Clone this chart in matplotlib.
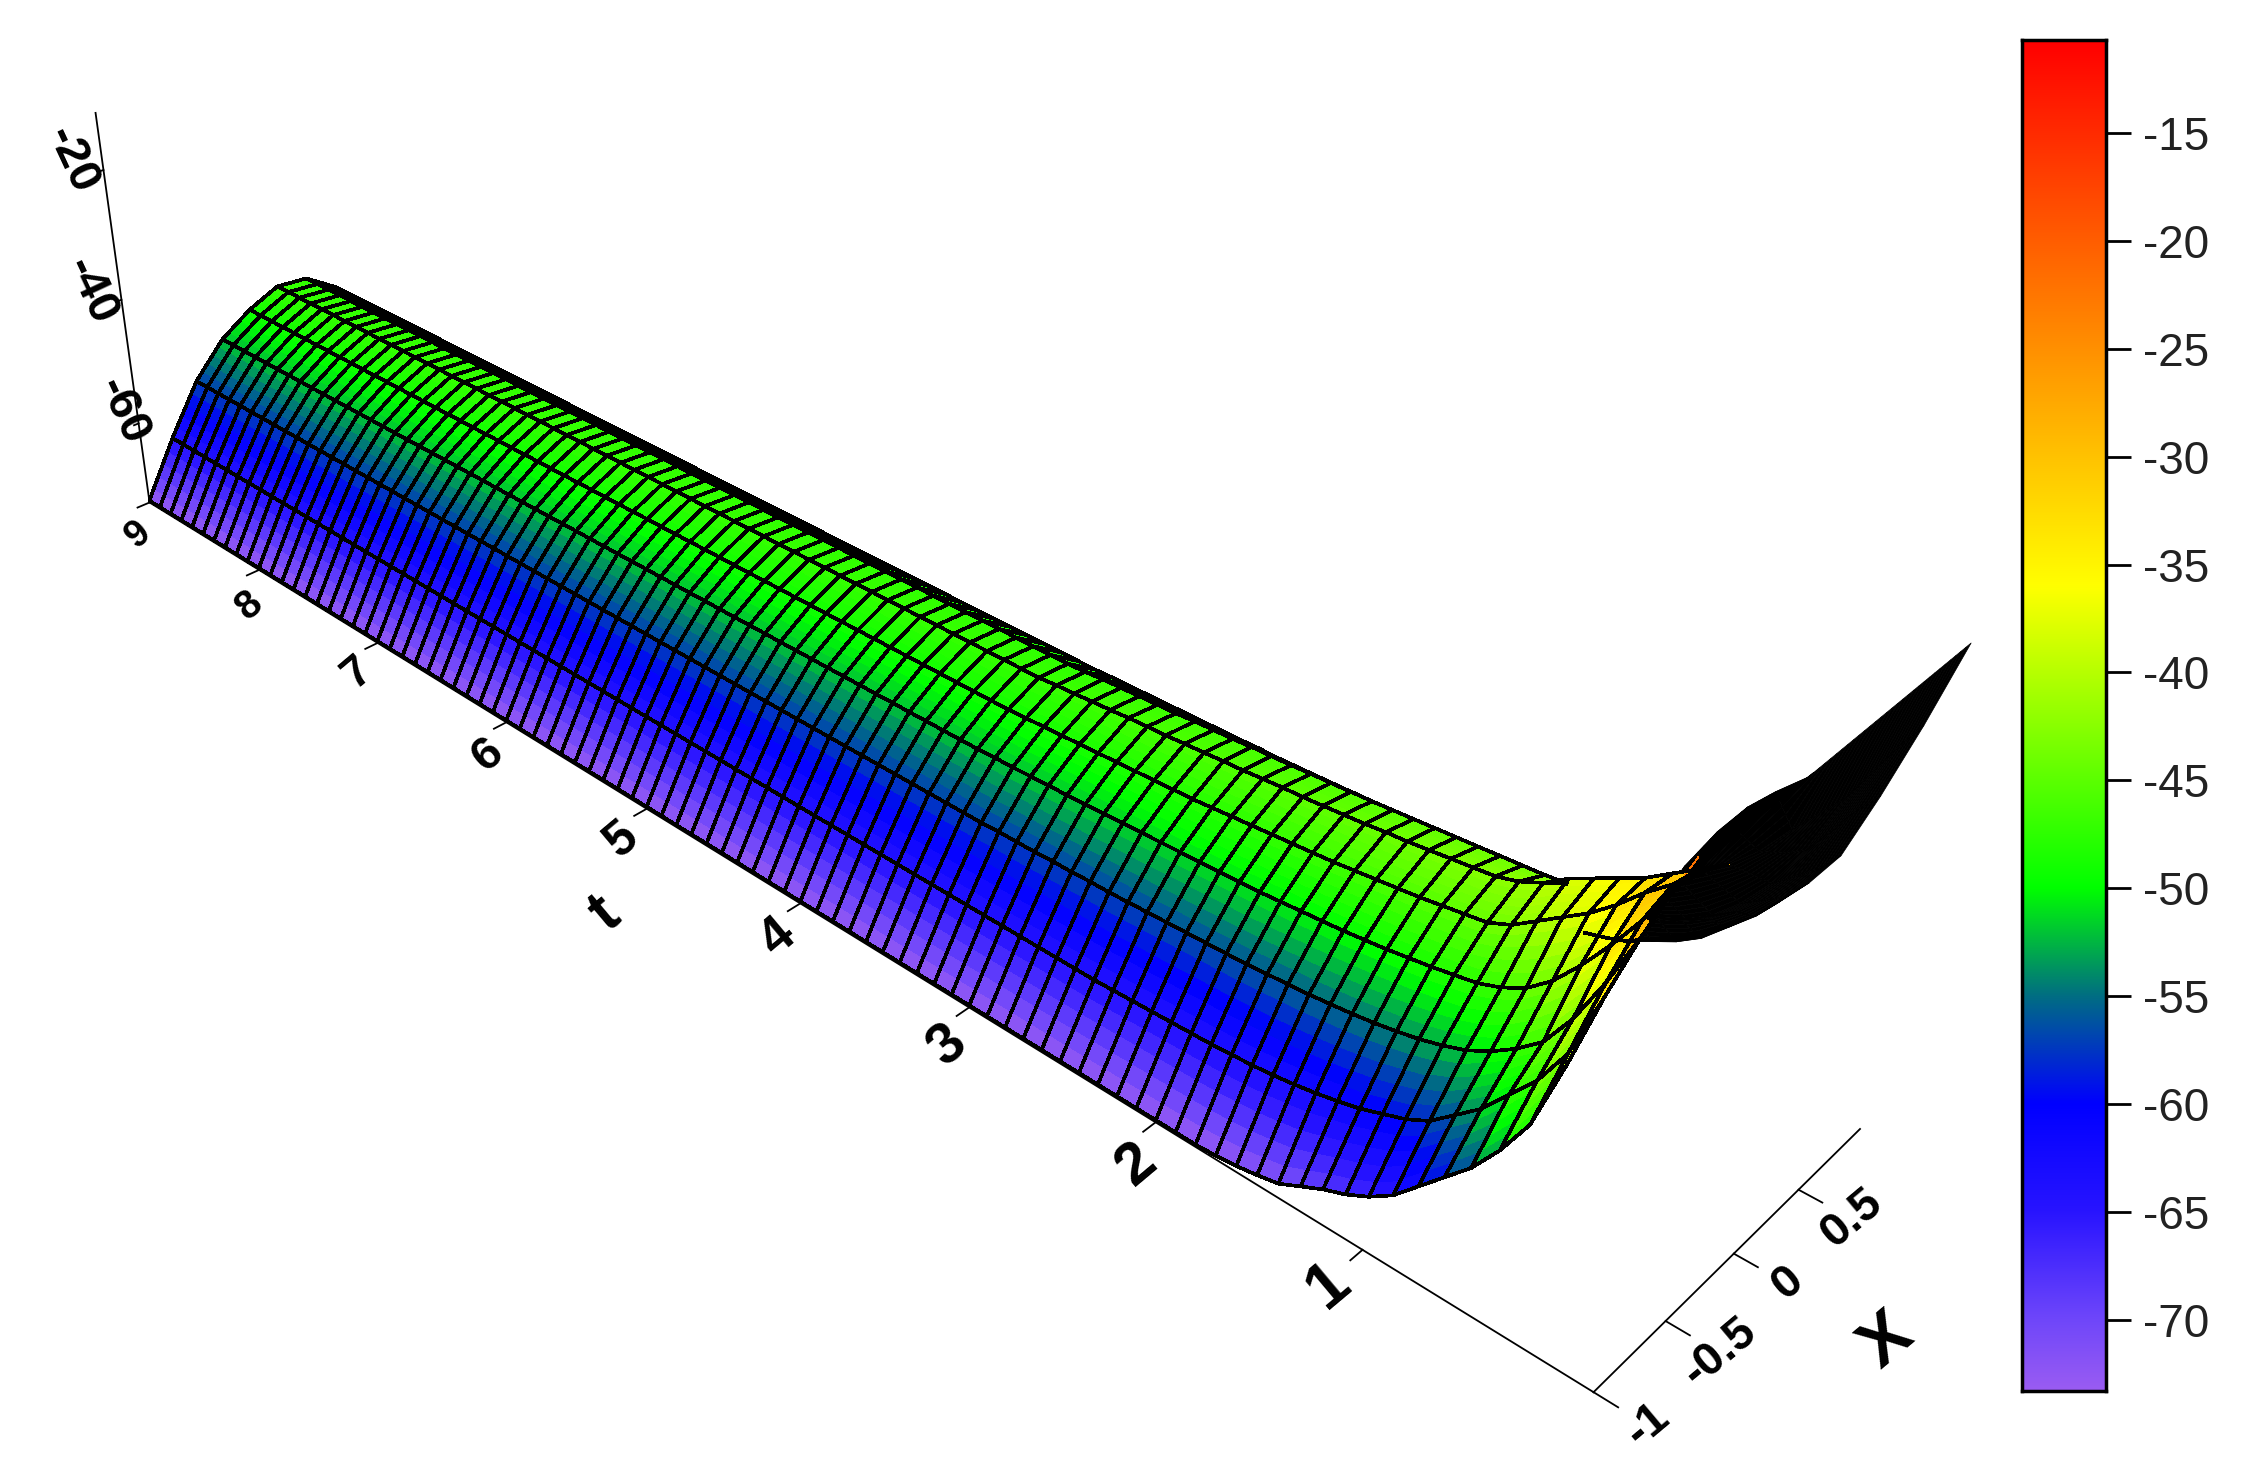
import numpy as np
import matplotlib
matplotlib.use('Agg')
import matplotlib.pyplot as plt
from matplotlib.colors import LinearSegmentedColormap
from mpl_toolkits.mplot3d import proj3d
from mpl_toolkits.mplot3d.art3d import Poly3DCollection, Line3DCollection

W, H = 2253, 1480
plt.rcParams['font.family'] = ['Liberation Sans', 'DejaVu Sans']

x_nodes = [-1, -.8, -.6, -.4, -.2, 0, .2, .4, .6, .8, 1]
t_nodes = np.linspace(0, 9, 91)

# z along t at each x node, t = 0, 0.1, 0.2 ... the last value holds up to t = 9
z_xm10 = [-11, -17, -26, -37, -46, -51, -55, -58, -61, -64, -66, -67.5, -68.6, -70, -71.4, -72, -72.5, -72.8, -73]
z_xm08 = [-11, -14, -22.5, -32, -40.5, -45.5, -49, -52.5, -55, -57.5, -59, -60, -61, -61.7, -62.3, -62.8, -63.2, -63.5, -63.7, -63.9, -64, -64.1, -64.2, -64.3, -64.4, -64.5]
z_xm06 = [-11, -13, -20, -28, -35, -41, -45.5, -48, -50, -51.5, -52.5, -53.3, -53.9, -54.4, -54.8, -55.1, -55.4, -55.6, -55.8, -56, -56.1, -56.2, -56.3, -56.4, -56.5, -56.6, -56.7, -56.7, -56.8, -56.8, -56.9, -56.9, -56.9, -57]
z_xm04 = [-11, -13, -18, -25, -30.5, -35, -39, -42.5, -45, -46.5, -47.5, -48, -48.5, -48.9, -49.3, -49.6, -49.9, -50.1, -50.3, -50.5, -50.7, -50.8, -50.9, -51, -51.1, -51.2, -51.3, -51.4, -51.5, -51.6, -51.7, -51.7, -51.8, -51.9, -51.9, -52]
z_xm02 = [-11, -14, -20, -26, -29, -31.5, -34.5, -37, -39, -41, -43, -44.2, -44.6, -45, -45.4, -45.7, -46, -46.3, -46.6, -46.8, -47, -47.2, -47.4, -47.6, -47.8, -48, -48.1, -48.2, -48.3, -48.4, -48.5, -48.6, -48.7, -48.8, -48.9, -49]
z_x00 = [-11, -21, -25, -28, -30, -32, -34, -35.5, -37, -38.5, -40.5, -41.8, -42.6, -42.9, -43.2, -43.5, -43.8, -44, -44.3, -44.5, -44.7, -44.9, -45, -45.2, -45.4, -45.5, -45.7, -45.8, -46, -46.1, -46.2, -46.4, -46.5, -46.7, -46.8, -47]
z_x02 = [-11, -22, -28, -32, -35, -37.5, -39.5, -41, -42, -43, -43.5, -43.8, -44, -44.2, -44.4, -44.6, -44.8, -45, -45.2, -45.4, -45.5, -45.7, -45.8, -46, -46.1, -46.2, -46.4, -46.5, -46.6, -46.8, -46.9, -47, -47.1, -47.2, -47.4, -47.5]
z_x04 = [-11, -23, -30.5, -36, -40, -43, -45, -46.3, -47, -47.6, -48.1, -48.5, -48.8, -49, -49.2, -49.3, -49.4, -49.5, -49.6, -49.7, -49.8, -49.9, -50, -50.1, -50.2, -50.3, -50.3, -50.4, -50.4, -50.5, -50.5, -50.6, -50.6, -50.7, -50.7, -50.8]
z_x06 = [-11, -22.5, -31, -38, -42.5, -45.5, -48, -49.8, -51, -52, -52.8, -53.4, -53.9, -54.4, -54.8, -55.1, -55.4, -55.7, -56, -56.2, -56.4, -56.6, -56.8, -57, -57.1, -57.2, -57.3, -57.4, -57.5, -57.6, -57.7, -57.7, -57.8, -57.9, -57.9, -58]
z_x08 = [-11, -22, -31, -40, -45, -49, -52, -55, -57, -58.5, -60, -61, -61.8, -62.3, -62.7, -63, -63.2, -63.4, -63.6, -63.8, -64, -64.1, -64.2, -64.3, -64.4, -64.5, -64.6, -64.7, -64.7, -64.8, -64.8, -64.9, -64.9, -65]
z_x10 = [-11, -22, -32, -41, -46, -50, -53.5, -56, -58.5, -60.5, -62.5, -64.5, -65.5, -66.5, -67.5, -68.5, -69.3, -70, -70.8, -71.5, -72, -72.5, -72.8, -73]
z_columns = [z_xm10, z_xm08, z_xm06, z_xm04, z_xm02, z_x00, z_x02, z_x04, z_x06, z_x08, z_x10]

t_ticks = [1, 2, 3, 4, 5, 6, 7, 8, 9]
x_ticks = [-1, -.5, 0, .5]
z_ticks = [-60, -40, -20]
cbar_ticks = [-15, -20, -25, -30, -35, -40, -45, -50, -55, -60, -65, -70]
z_lo, z_hi = -73.3, -10.7
cmap_z = [-73.3, -70, -65, -60, -55, -50, -36, -10.7]
cmap_col = ['#9a5cf2', '#6e46fa', '#2814ff', '#0000ff', '#006e82', '#00ff00', '#ffff00', '#ff0000']

fig = plt.figure(figsize=(W / 100, H / 100), dpi=100)
ax = fig.add_axes([-.10570, -.06965, .91539, 1.39350], projection='3d', computed_zorder=False)
ax.set_xticks([]); ax.set_yticks([]); ax.set_zticks([])
ax.set_axis_off()
ax.patch.set_alpha(0)
ax.view_init(30.4711, -134.9021, .3228)
ax.set_proj_type('persp', focal_length=.2652)
ax.set_box_aspect((1, 4.688, 1.192))
ax.set_xlim3d(-1.1403, .8597)
ax.set_ylim3d(.1871, 9.1871)
ax.set_zlim3d(-69.1543, -6.5543)
ax.apply_aspect()
M = ax.get_proj()

Z = np.array([np.r_[c, [c[-1]] * (len(t_nodes) - len(c))] for c in z_columns]).T

# sub-cells in x only give the smooth colour ramp between mesh lines
n_sub = 5
x_fine = np.concatenate([np.linspace(x_nodes[i], x_nodes[i + 1], n_sub, endpoint=False) for i in range(len(x_nodes) - 1)] + [[1.]])
Z_fine = np.array([np.interp(x_fine, x_nodes, row) for row in Z])
XX, TT = np.meshgrid(x_fine, t_nodes)
UU, VV, _ = proj3d.proj_transform(XX.ravel(), TT.ravel(), Z_fine.ravel(), M)
UU = UU.reshape(XX.shape)
VV = VV.reshape(XX.shape)
area = (UU[1:, 1:] - UU[:-1, :-1]) * (VV[:-1, 1:] - VV[1:, :-1]) - (UU[:-1, 1:] - UU[1:, :-1]) * (VV[1:, 1:] - VV[:-1, :-1])
front = np.sign(area) == np.sign(area[50, n_sub])
# the tail past the fold is all underside
front[(XX[:-1, :-1] >= .2) & (TT[:-1, :-1] < 1)] = False
front[(XX[:-1, :-1] >= -.45) & (TT[:-1, :-1] < .25)] = False
front[(XX[:-1, :-1] >= -.9) & (TT[:-1, :-1] < .15)] = False

norm_pos = [(v - z_lo) / (z_hi - z_lo) for v in cmap_z]
cmap = LinearSegmentedColormap.from_list('surf', list(zip(norm_pos, cmap_col)), N=512)

polys_f, cols_f, polys_b = [], [], []
for i in range(front.shape[0]):
    for j in range(front.shape[1]):
        quad = [(XX[a, b], TT[a, b], Z_fine[a, b]) for a, b in ((i, j), (i, j + 1), (i + 1, j + 1), (i + 1, j))]
        if front[i, j]:
            polys_f.append(quad)
            cols_f.append(cmap((Z_fine[i:i + 2, j:j + 2].mean() - z_lo) / (z_hi - z_lo)))
        else:
            polys_b.append(quad)
back = Poly3DCollection(polys_b, facecolors='k', edgecolors='k', linewidths=.5, zorder=1)
back.set_clip_on(False)
ax.add_collection3d(back)
fr = Poly3DCollection(polys_f, facecolors=cols_f, edgecolors=cols_f, linewidths=.4, antialiased=False, zorder=2)
fr.set_clip_on(False)
ax.add_collection3d(fr)

segs = []
for j in range(0, len(x_fine), n_sub):
    for i in range(front.shape[0]):
        if (j < front.shape[1] and front[i, j]) or (j > 0 and front[i, j - 1]):
            segs.append([(XX[i, j], TT[i, j], Z_fine[i, j]), (XX[i + 1, j], TT[i + 1, j], Z_fine[i + 1, j])])
for i in range(len(t_nodes)):
    for j in range(front.shape[1]):
        if (i < front.shape[0] and front[i, j]) or (i > 0 and front[i - 1, j]):
            segs.append([(XX[i, j], TT[i, j], Z_fine[i, j]), (XX[i, j + 1], TT[i, j + 1], Z_fine[i, j + 1])])
mesh = Line3DCollection(segs, colors='k', linewidths=1.9, antialiased=False, zorder=3)
mesh.set_clip_on(False)
ax.add_collection3d(mesh)


def label3d(x, t, z, s, **kw):
    u, v, _ = proj3d.proj_transform(x, t, z, M)
    ax.text2D(u, v, s, transform=ax.transData, fontweight='bold', ha='center', va='center', color='k', zorder=5, **kw)


axis_kw = dict(color='k', lw=1.3, zorder=0, clip_on=False)
ax.plot([-1, -1], [0, 9], [z_lo, z_lo], **axis_kw)
ax.plot([-1, 1], [0, 0], [z_lo, z_lo], **axis_kw)
ax.plot([-1, -1], [9, 9], [z_lo, -11.5], **axis_kw)
t_sizes = [46, 43, 41, 38, 36, 34, 32, 29, 27]
t_shift = [.02, .1, .1, .1, .1, .15, .15, .25, .25]
for tv, fs, sh in zip(t_ticks, t_sizes, t_shift):
    ax.plot([-1, -1.08], [tv, tv], [z_lo, z_lo], **axis_kw)
    label3d(-1.25, tv - sh, z_lo, str(tv), rotation=40, fontsize=fs)
for xv in x_ticks:
    ax.plot([xv, xv], [0, -.1], [z_lo, z_lo], **axis_kw)
    label3d(xv, -.22, z_lo, f'{xv:g}', rotation=40, fontsize=34)
label3d(-.01, -.62, z_lo, 'X', rotation=40, fontsize=50)
label3d(-1.68, 4.55, z_lo, 't', rotation=40, fontsize=44)
for zv, lx in zip(z_ticks, [-1.09, -1.18, -1.18]):
    ax.plot([-1, -1.03], [9, 9], [zv, zv], **axis_kw)
    label3d(lx, 9, zv + 3, str(zv), rotation=-65, fontsize=34)

scale = W / 1568
bx = fig.add_axes([1407 * scale / W, 1 - 968 * scale / H, 59 * scale / W, 940 * scale / H])
grad = np.linspace(z_hi, z_lo, 512).reshape(-1, 1)
bx.imshow(grad, aspect='auto', cmap=cmap, vmin=z_lo, vmax=z_hi, extent=[0, 1, z_lo, z_hi])
bx.set_xticks([])
bx.yaxis.tick_right()
bx.set_yticks(cbar_ticks)
bx.tick_params(axis='y', length=18, width=2, labelsize=33, pad=8, labelcolor='#222222')
bx.set_yticklabels([str(v) for v in cbar_ticks])
for s in bx.spines.values():
    s.set_linewidth(2.5)

fig.savefig('out.png', dpi=100)
